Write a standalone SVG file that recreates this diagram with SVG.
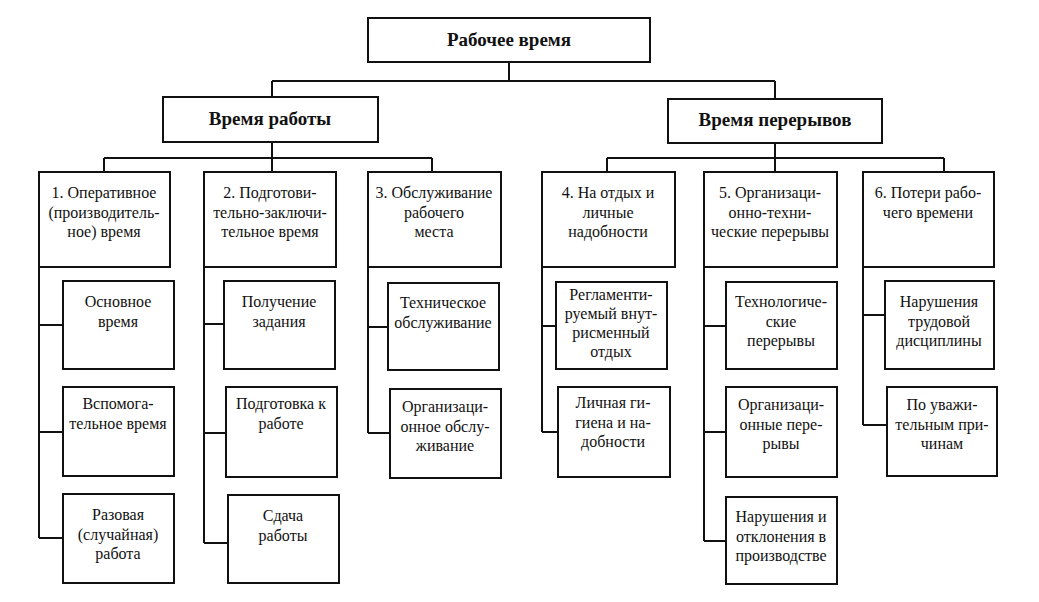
<svg xmlns="http://www.w3.org/2000/svg" width="1039" height="602" viewBox="0 0 1039 602">
<style>
.b{fill:#fff;stroke:#111;stroke-width:2}
.c{fill:none;stroke:#111;stroke-width:2}
.t{font-family:"Liberation Serif","Times New Roman",serif;font-size:16px;fill:#111;text-anchor:middle}
.h{font-family:"Liberation Serif","Times New Roman",serif;font-size:19px;font-weight:bold;fill:#111;text-anchor:middle}
</style>
<rect width="1039" height="602" fill="#fff"/>
<g id="connectors">
<path class="c" d="M509 62V81M272 81H775M272 81V97M775 81V99"/>
<path class="c" d="M272 142V172M104 158H432M104 158V172M432 158V172"/>
<path class="c" d="M775 143V172M607 158H944M607 158V172M944 158V172"/>
<path class="c" d="M39 267V538M39 325H63M39 432H63M39 538H63"/>
<path class="c" d="M204 267V543M204 324H224M204 433H226M204 543H228"/>
<path class="c" d="M368 267V433M368 327H388M368 433H390"/>
<path class="c" d="M542 267V432M542 326H556M542 432H558"/>
<path class="c" d="M704 267V541M704 326H726M704 432H726M704 541H726"/>
<path class="c" d="M863 267V425M863 315H885M863 425H887"/>
</g>
<g id="n-root"><rect class="b" x="368" y="18" width="282" height="44"/><text class="h" x="509" y="46">Рабочее время</text></g>
<g id="n-work"><rect class="b" x="163" y="97" width="215" height="45"/><text class="h" x="270" y="125">Время работы</text></g>
<g id="n-breaks"><rect class="b" x="668" y="99" width="214" height="44"/><text class="h" x="775" y="126">Время перерывов</text></g>

<g id="n1"><rect class="b" x="39" y="172" width="131" height="95"/><text class="t" x="104" y="198">1. Оперативное<tspan x="104" dy="19.5">(производитель-</tspan><tspan x="104" dy="19.5">ное) время</tspan></text></g>
<g id="n2"><rect class="b" x="204" y="172" width="132" height="95"/><text class="t" x="270" y="198">2. Подготови-<tspan x="270" dy="19.5">тельно-заключи-</tspan><tspan x="270" dy="19.5">тельное время</tspan></text></g>
<g id="n3"><rect class="b" x="368" y="172" width="133" height="95"/><text class="t" x="434" y="198">3. Обслуживание<tspan x="434" dy="19.5">рабочего</tspan><tspan x="434" dy="19.5">места</tspan></text></g>
<g id="n4"><rect class="b" x="542" y="172" width="133" height="95"/><text class="t" x="608" y="198">4. На отдых и<tspan x="608" dy="19.5">личные</tspan><tspan x="608" dy="19.5">надобности</tspan></text></g>
<g id="n5"><rect class="b" x="704" y="172" width="133" height="95"/><text class="t" x="770" y="198">5. Организаци-<tspan x="770" dy="19.5">онно-техни-</tspan><tspan x="770" dy="19.5">ческие перерывы</tspan></text></g>
<g id="n6"><rect class="b" x="863" y="172" width="131" height="95"/><text class="t" x="928" y="198">6. Потери рабо-<tspan x="928" dy="19.5">чего времени</tspan></text></g>

<g id="n1a"><rect class="b" x="63" y="281" width="111" height="88"/><text class="t" x="118" y="307">Основное<tspan x="118" dy="19.5">время</tspan></text></g>
<g id="n1b"><rect class="b" x="63" y="387" width="111" height="89"/><text class="t" x="118" y="409">Вспомога-<tspan x="118" dy="19.5">тельное время</tspan></text></g>
<g id="n1c"><rect class="b" x="63" y="494" width="111" height="89"/><text class="t" x="118" y="520">Разовая<tspan x="118" dy="19.5">(случайная)</tspan><tspan x="118" dy="19.5">работа</tspan></text></g>

<g id="n2a"><rect class="b" x="224" y="281" width="111" height="88"/><text class="t" x="279" y="307">Получение<tspan x="279" dy="19.5">задания</tspan></text></g>
<g id="n2b"><rect class="b" x="226" y="387" width="111" height="90"/><text class="t" x="281" y="409">Подготовка к<tspan x="281" dy="19.5">работе</tspan></text></g>
<g id="n2c"><rect class="b" x="228" y="495" width="111" height="88"/><text class="t" x="283" y="521">Сдача<tspan x="283" dy="19.5">работы</tspan></text></g>

<g id="n3a"><rect class="b" x="388" y="283" width="111" height="87"/><text class="t" x="443" y="308">Техническое<tspan x="443" dy="19.5">обслуживание</tspan></text></g>
<g id="n3b"><rect class="b" x="390" y="389" width="111" height="89"/><text class="t" x="445" y="412">Организаци-<tspan x="445" dy="19.5">онное обслу-</tspan><tspan x="445" dy="19.5">живание</tspan></text></g>

<g id="n4a"><rect class="b" x="556" y="282" width="111" height="87"/><text class="t" x="611" y="300">Регламенти-<tspan x="611" dy="19">руемый внут-</tspan><tspan x="611" dy="19">рисменный</tspan><tspan x="611" dy="19">отдых</tspan></text></g>
<g id="n4b"><rect class="b" x="558" y="387" width="112" height="90"/><text class="t" x="613" y="408">Личная ги-<tspan x="613" dy="19.5">гиена и на-</tspan><tspan x="613" dy="19.5">добности</tspan></text></g>

<g id="n5a"><rect class="b" x="726" y="282" width="111" height="87"/><text class="t" x="781" y="307">Технологиче-<tspan x="781" dy="19.5">ские</tspan><tspan x="781" dy="19.5">перерывы</tspan></text></g>
<g id="n5b"><rect class="b" x="726" y="387" width="111" height="90"/><text class="t" x="781" y="410">Организаци-<tspan x="781" dy="19.5">онные пере-</tspan><tspan x="781" dy="19.5">рывы</tspan></text></g>
<g id="n5c"><rect class="b" x="726" y="497" width="111" height="87"/><text class="t" x="781" y="522">Нарушения и<tspan x="781" dy="19.5">отклонения в</tspan><tspan x="781" dy="19.5">производстве</tspan></text></g>

<g id="n6a"><rect class="b" x="885" y="281" width="109" height="88"/><text class="t" x="939" y="307">Нарушения<tspan x="939" dy="19.5">трудовой</tspan><tspan x="939" dy="19.5">дисциплины</tspan></text></g>
<g id="n6b"><rect class="b" x="887" y="387" width="110" height="89"/><text class="t" x="942" y="410">По уважи-<tspan x="942" dy="19.5">тельным при-</tspan><tspan x="942" dy="19.5">чинам</tspan></text></g>
</svg>
